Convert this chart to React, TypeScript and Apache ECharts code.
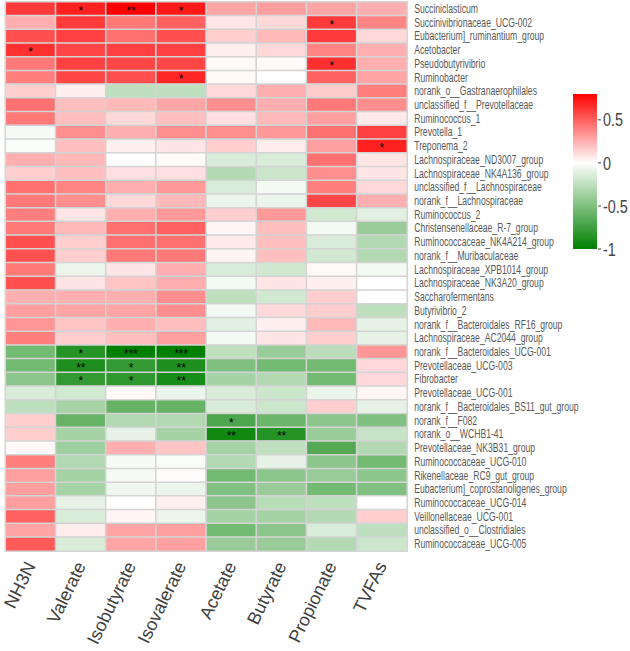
import React, { useEffect, useRef } from "react";
import * as echarts from "echarts";

const rowNames = [
  "Succiniclasticum", "Succinivibrionaceae_UCG-002", "Eubacterium]_ruminantium_group", "Acetobacter",
  "Pseudobutyrivibrio", "Ruminobacter", "norank_o__Gastranaerophilales", "unclassified_f__Prevotellaceae",
  "Ruminococcus_1", "Prevotella_1", "Treponema_2", "Lachnospiraceae_ND3007_group",
  "Lachnospiraceae_NK4A136_group", "unclassified_f__Lachnospiraceae", "norank_f__Lachnospiraceae", "Ruminococcus_2",
  "Christensenellaceae_R-7_group", "Ruminococcaceae_NK4A214_group", "norank_f__Muribaculaceae", "Lachnospiraceae_XPB1014_group",
  "Lachnospiraceae_NK3A20_group", "Saccharofermentans", "Butyrivibrio_2", "norank_f__Bacteroidales_RF16_group",
  "Lachnospiraceae_AC2044_group", "norank_f__Bacteroidales_UCG-001", "Prevotellaceae_UCG-003", "Fibrobacter",
  "Prevotellaceae_UCG-001", "norank_f__Bacteroidales_BS11_gut_group", "norank_f__F082", "norank_o__WCHB1-41",
  "Prevotellaceae_NK3B31_group", "Ruminococcaceae_UCG-010", "Rikenellaceae_RC9_gut_group", "Eubacterium]_coprostanoligenes_group",
  "Ruminococcaceae_UCG-014", "Veillonellaceae_UCG-001", "unclassified_o__Clostridiales", "Ruminococcaceae_UCG-005",
];

const colNames = ["NH3N", "Valerate", "Isobutyrate", "Isovalerate", "Acetate", "Butyrate", "Propionate", "TVFAs"];

const nh3n = [0.62, 0.25, 0.55, 0.65, 0.42, 0.4, 0.15, 0.45, 0.42, -0.03, -0.02, 0.25, 0.15, 0.45, 0.42, 0.4, 0.42, 0.55, 0.55, 0.42, 0.55, 0.25, 0.3, 0.33, 0.4, -0.55, -0.55, -0.45, -0.15, -0.25, 0.15, 0.15, 0.02, 0.4, 0.3, 0.3, 0.3, 0.5, 0.28, 0.52];
const valerate = [0.7, 0.62, 0.6, 0.58, 0.6, 0.58, 0.05, 0.2, 0.2, 0.35, 0.2, 0.22, 0.2, 0.38, 0.35, 0.08, 0.22, 0.15, 0.15, -0.08, 0.08, 0.25, 0.28, 0.18, 0.15, -0.85, -0.88, -0.8, -0.18, -0.35, -0.6, -0.35, -0.38, -0.3, -0.35, -0.35, -0.1, -0.15, 0.06, -0.15];
const isobutyrate = [0.8, 0.42, 0.45, 0.6, 0.58, 0.55, -0.25, 0.22, 0.12, 0.25, 0.05, 0.0, 0.1, 0.25, 0.12, 0.25, 0.45, 0.45, 0.42, 0.08, 0.18, 0.25, 0.28, 0.25, 0.2, -1.0, -0.8, -0.82, 0.02, -0.6, -0.3, -0.1, 0.25, -0.03, -0.04, -0.06, 0.0, 0.03, 0.28, 0.28];
const isovalerate = [0.72, 0.5, 0.55, 0.6, 0.58, 0.68, -0.25, 0.28, 0.2, 0.35, 0.08, 0.02, 0.1, 0.32, 0.22, 0.32, 0.5, 0.45, 0.42, 0.25, 0.25, 0.35, 0.35, 0.2, 0.3, -1.0, -0.88, -0.9, -0.08, -0.6, -0.3, -0.35, 0.18, -0.02, 0.01, -0.08, 0.05, -0.08, 0.3, 0.3];
const acetate = [0.28, 0.08, 0.15, 0.05, 0.02, 0.02, 0.12, 0.35, 0.1, 0.35, 0.15, -0.15, -0.3, -0.15, -0.08, 0.15, 0.03, 0.07, 0.03, -0.15, -0.05, -0.25, -0.05, -0.12, -0.05, -0.25, -0.5, -0.35, -0.15, -0.15, -0.7, -0.93, -0.35, -0.3, -0.55, -0.5, -0.45, -0.35, -0.55, -0.4];
const butyrate = [0.3, 0.12, 0.22, 0.12, 0.02, 0.0, 0.25, 0.25, 0.22, 0.32, 0.06, -0.15, -0.2, -0.05, -0.08, 0.32, 0.2, 0.2, 0.2, -0.18, 0.08, -0.18, 0.12, 0.05, 0.08, -0.4, -0.55, -0.3, -0.2, -0.2, -0.58, -0.85, -0.25, -0.1, -0.45, -0.4, -0.28, -0.35, -0.45, -0.4];
const propionate = [0.28, 0.62, 0.62, 0.38, 0.65, 0.5, 0.16, 0.42, 0.3, 0.45, 0.3, 0.45, 0.35, 0.4, 0.58, -0.18, -0.05, -0.15, -0.18, 0.02, 0.05, 0.15, 0.15, 0.22, 0.15, -0.27, -0.55, -0.55, -0.08, 0.15, -0.45, -0.4, -0.68, -0.45, -0.4, -0.55, -0.25, -0.3, -0.15, -0.3];
const tvfas = [0.25, 0.38, 0.12, 0.25, 0.25, 0.28, 0.4, 0.35, 0.07, 0.6, 0.7, 0.08, 0.08, 0.12, 0.25, -0.12, -0.4, -0.3, -0.3, -0.05, 0.0, 0.0, -0.25, -0.1, -0.1, 0.33, 0.12, 0.12, 0.03, -0.1, -0.5, -0.22, -0.3, -0.55, -0.45, -0.5, 0.0, 0.15, -0.25, -0.2];

// [rowIndex, colIndex, significance]
const stars: [number, number, string][] = [
  [0, 1, "*"], [0, 2, "**"], [0, 3, "*"], [1, 6, "*"], [3, 0, "*"], [4, 6, "*"], [5, 3, "*"], [10, 7, "*"],
  [25, 1, "*"], [25, 2, "***"], [25, 3, "***"], [26, 1, "**"], [26, 2, "*"], [26, 3, "**"],
  [27, 1, "*"], [27, 2, "*"], [27, 3, "**"], [30, 4, "*"], [31, 4, "**"], [31, 5, "**"],
];

const legendTicks = [0.5, 0, -0.5, -1];
const scaleMin = -1;
const scaleMax = 0.8;

function colorFor(v: number): string {
  let r: number, g: number, b: number;
  if (v < 0) {
    const t = Math.min(1, -v);
    r = 255 * (1 - t); g = 255 - 127 * t; b = 255 * (1 - t);
  } else {
    const t = Math.min(1, v / scaleMax);
    r = 255; g = 255 * (1 - t); b = 255 * (1 - t);
  }
  return `rgb(${Math.round(r)},${Math.round(g)},${Math.round(b)})`;
}

const FONT = "'Liberation Sans', Arial, sans-serif";

export default function App() {
  const ref = useRef<HTMLDivElement>(null);
  useEffect(() => {
    if (!ref.current) return;
    const chart = echarts.init(ref.current, null, { renderer: "svg" });
    const columns = [nh3n, valerate, isobutyrate, isovalerate, acetate, butyrate, propionate, tvfas];
    const starMap: Record<string, string> = {};
    stars.forEach(([r, c, s]) => { starMap[r + "_" + c] = s; });
    const data: any[] = [];
    columns.forEach((col, c) => {
      col.forEach((v, r) => {
        data.push({ value: [c, r, v], star: starMap[r + "_" + c] || "" });
      });
    });
    const stops: string[] = [];
    for (let i = 0; i <= 18; i++) stops.push(colorFor(scaleMin + i * 0.1));

    chart.setOption({
      animation: false,
      backgroundColor: "#ffffff",
      grid: { left: 2, top: 2, width: 405, height: 549, containLabel: false },
      xAxis: {
        type: "category",
        data: colNames,
        position: "bottom",
        axisLine: { show: false },
        axisTick: { show: false },
        splitLine: { show: false },
        axisLabel: {
          rotate: 64, margin: 12, color: "#404040", fontSize: 18,
          fontFamily: FONT, interval: 0,
        },
      },
      yAxis: {
        type: "category",
        data: rowNames,
        inverse: true,
        position: "right",
        axisLine: { show: false },
        axisTick: { show: false },
        splitLine: { show: false },
        axisLabel: { show: false },
      },
      visualMap: {
        show: false, type: "continuous", min: scaleMin, max: scaleMax, dimension: 2,
        inRange: { color: stops },
      },
      series: [
        {
          type: "heatmap",
          data,
          itemStyle: { borderColor: "#d4d4d4", borderWidth: 1.5 },
          label: {
            show: true,
            formatter: (p: any) => p.data.star || "",
            color: "#000",
            fontSize: 12,
            lineHeight: 11,
            fontFamily: FONT,
            offset: [0, 2],
          },
          emphasis: { disabled: true },
        },
      ],
    });

    // Row labels (horizontally condensed, positioned from the y axis scale)
    const rightEdge = chart.convertToPixel({ xAxisIndex: 0 }, colNames[colNames.length - 1]) as number;
    const graphics: any[] = [];
    const cellHalf = 405 / colNames.length / 2;
    rowNames.forEach((name) => {
      const y = chart.convertToPixel({ yAxisIndex: 0 }, name) as number;
      graphics.push({
        type: "text", x: rightEdge + cellHalf + 7, y, scaleX: 0.72,
        style: { text: name, fill: "#595959", font: `12px ${FONT}`, verticalAlign: "middle", align: "left" },
      });
    });

    // Colour legend
    const barTop = 94, barBottom = 249, barX = 573, barW = 24;
    const yOf = (v: number) => barBottom - ((v - scaleMin) / (scaleMax - scaleMin)) * (barBottom - barTop);
    const zeroOffset = (scaleMax - 0) / (scaleMax - scaleMin);
    graphics.push({
      type: "rect",
      shape: { x: barX, y: barTop, width: barW, height: barBottom - barTop },
      style: {
        fill: new echarts.graphic.LinearGradient(0, 0, 0, 1, [
          { offset: 0, color: "#ff0000" },
          { offset: zeroOffset, color: "#ffffff" },
          { offset: 1, color: "#008000" },
        ]),
      },
    });
    legendTicks.forEach((t) => {
      const y = yOf(t);
      graphics.push({ type: "line", shape: { x1: barX + barW + 1, y1: y, x2: barX + barW + 4, y2: y }, style: { stroke: "#444", lineWidth: 1 } });
      graphics.push({
        type: "text", x: barX + barW + 6, y, scaleX: 0.8,
        style: { text: String(t), fill: "#444", font: `18px ${FONT}`, verticalAlign: "middle", align: "left" },
      });
    });
    chart.setOption({ graphic: graphics });
    return () => chart.dispose();
  }, []);
  return <div ref={ref} style={{ position: "fixed", left: 0, top: 0, width: 630, height: 651 }} />;
}
